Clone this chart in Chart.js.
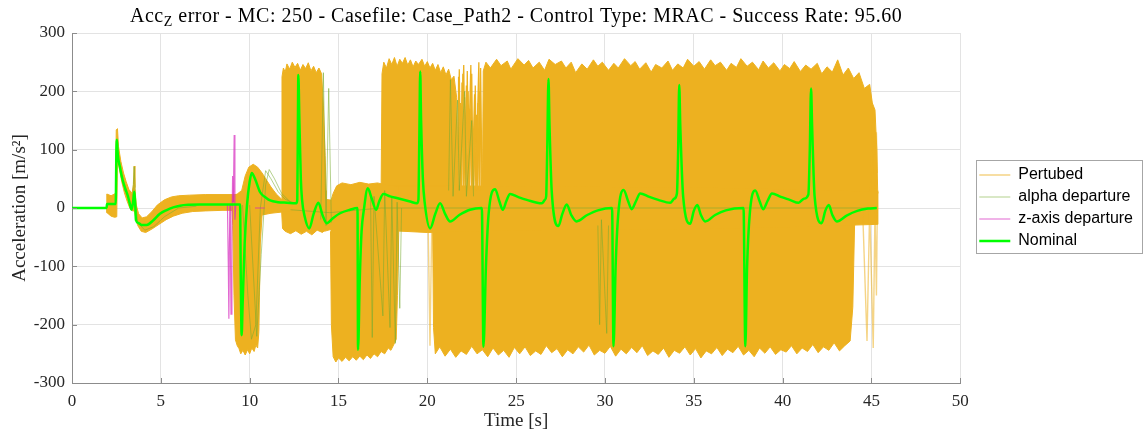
<!DOCTYPE html>
<html>
<head>
<meta charset="utf-8">
<title>Acc Z error - Monte Carlo</title>
<script src="https://cdn.jsdelivr.net/npm/chart.js@4.4.1/dist/chart.umd.min.js"></script>
<style>
  html, body { margin: 0; padding: 0; background: #fff; }
  canvas { display: block; }
</style>
</head>
<body>
<canvas id="acc-error-chart" width="1146" height="437"></canvas>
<script>
// axis ticks
const xTickValues = [0, 5, 10, 15, 20, 25, 30, 35, 40, 45, 50];
const yTickValues = [-300, -200, -100, 0, 100, 200, 300];

const titleParts = [
  ['Acc', false],
  ['Z', true],
  [' error - MC: 250 - Casefile: Case_Path2 - Control Type: MRAC - Success Rate: 95.60', false]
];

// nominal run [time, acc]
const nominalPath = [
  [0, 0], [1.95, 0], [1.97, 7], [2.46, 7], [2.5, 100], [2.53, 117], [2.57, 94], [2.7, 70],
  [2.85, 48], [3.0, 33], [3.15, 20], [3.25, 8], [3.35, -3], [3.46, 15], [3.51, 28], [3.56, 5],
  [3.6, -21], [3.75, -26], [3.92, -29], [4.2, -29], [4.58, -21], [4.95, -10], [5.33, -3.5],
  [5.7, 1], [6.08, 4], [6.6, 5.5], [7.2, 6], [9.46, 6], [9.5, -120], [9.55, -218], [9.6, -170],
  [9.72, -60], [9.85, 5], [10.0, 45], [10.12, 60], [10.3, 50], [10.59, 27], [10.9, 18],
  [11.15, 13], [11.6, 10], [12.1, 9], [12.62, 8], [12.68, 14], [12.71, 120], [12.74, 228],
  [12.8, 150], [12.88, 50], [12.95, 14], [13.1, -15], [13.36, -35], [13.6, -10], [13.87, 9],
  [14.1, -12], [14.34, -26], [14.7, -17], [15.09, -9], [15.65, -3], [16.07, 0], [16.1, -243],
  [16.2, -120], [16.3, -40], [16.42, -5], [16.65, 34], [16.85, 18], [17.12, -3], [17.3, 12],
  [17.53, 24], [17.9, 20], [18.28, 17], [19.03, 11], [19.41, 8], [19.5, 14], [19.55, 120],
  [19.6, 234], [19.65, 150], [19.75, 50], [19.85, 10], [20.16, -35], [20.45, -10], [20.72, 8],
  [21.0, -10], [21.28, -23], [21.8, -12], [22.4, -3], [23.07, 0], [23.16, -238], [23.3, -100],
  [23.45, -10], [23.82, 32], [24.05, 12], [24.25, -3], [24.45, 12], [24.66, 24], [25.1, 19],
  [25.6, 14], [26.45, 8], [26.62, 14], [26.69, 20], [26.75, 100], [26.82, 221], [26.88, 140],
  [27.0, 30], [27.38, -31], [27.6, -10], [27.85, 6], [28.1, -12], [28.4, -23], [29.0, -12],
  [29.6, -4], [30.4, 0], [30.48, -237], [30.6, -100], [30.75, -10], [31.05, 31], [31.3, 12],
  [31.5, -2], [31.75, 12], [31.98, 25], [32.5, 19], [33.0, 14], [33.67, 9], [33.9, 16],
  [34.05, 25], [34.12, 100], [34.18, 211], [34.24, 140], [34.4, 20], [34.8, -27], [35.0, -5],
  [35.2, 5], [35.4, -12], [35.64, -23], [36.2, -12], [36.8, -4], [37.8, 0], [37.9, -237],
  [38.0, -100], [38.15, -10], [38.46, 30], [38.7, 12], [38.9, -2], [39.15, 12], [39.4, 25],
  [39.9, 19], [40.4, 14], [40.9, 9], [41.2, 16], [41.45, 23], [41.53, 100], [41.6, 205],
  [41.66, 140], [41.8, 20], [42.2, -26], [42.4, -5], [42.6, 5], [42.8, -12], [43.05, -23],
  [43.6, -13], [44.2, -5], [44.8, -1], [45.3, 0]
];

// envelopes of the perturbed runs, each block as upper and lower edge [time, acc]
const earlyTop = [
  [1.95, 0], [1.96, 24], [2.2, 21], [2.45, 25], [2.49, 134], [2.56, 136], [2.62, 105],
  [2.75, 80], [2.9, 60], [3.05, 45], [3.2, 32], [3.38, 25], [3.46, 40], [3.5, 72], [3.54, 35],
  [3.62, 5], [3.75, -10], [3.95, -17], [4.2, -15], [4.5, -6], [4.8, 5], [5.2, 14], [5.6, 19],
  [6.0, 21], [6.6, 22], [7.5, 23], [8.5, 23], [9.3, 23]
];
const earlyBottom = [
  [1.95, 0], [1.97, -8], [2.2, -14], [2.4, -16], [2.52, -15], [2.56, 85], [2.65, 70],
  [2.8, 45], [2.95, 26], [3.1, 12], [3.25, 0], [3.4, -5], [3.52, -5], [3.6, -20], [3.7, -30],
  [3.9, -40], [4.15, -42], [4.5, -36], [4.9, -28], [5.3, -20], [5.7, -14], [6.2, -9],
  [6.8, -6], [7.5, -5], [8.5, -4], [9.3, -4]
];
const dropTop = [
  [9.0, 20], [9.3, 24], [9.55, 30], [9.75, 55], [9.95, 70], [10.2, 75], [10.45, 70],
  [10.7, 60], [10.95, 48], [11.2, 36], [11.5, 24], [11.8, 15], [12.1, 11], [12.4, 9]
];
const dropBottom = [
  [9.0, 0], [9.05, -30], [9.12, -150], [9.2, -226], [9.3, -236], [9.4, -241], [9.5, -250],
  [9.62, -244], [9.75, -252], [9.88, -243], [10.0, -250], [10.12, -240], [10.25, -246],
  [10.35, -235], [10.45, -240], [10.52, -212], [10.6, -60], [10.7, -12], [11.2, -9],
  [11.8, -7], [12.4, -5]
];
const climbTop = [
  [11.8, -5], [11.82, 225], [11.9, 240], [12.0, 233], [12.1, 247], [12.25, 238], [12.4, 250],
  [12.55, 241], [12.7, 248], [12.85, 236], [13.0, 246], [13.15, 239], [13.3, 249],
  [13.45, 235], [13.6, 243], [13.75, 232], [13.9, 240], [14.05, 230], [14.15, 175],
  [14.25, 90], [14.3, 30]
];
const climbBottom = [
  [11.8, -5], [11.85, -35], [12.0, -40], [12.3, -44], [12.6, -39], [12.9, -45], [13.2, -40],
  [13.5, -46], [13.8, -38], [14.1, -42], [14.3, -36]
];
const lowATop = [
  [14.55, 10], [14.7, 25], [14.9, 38], [15.2, 43], [15.7, 40], [16.2, 44], [16.7, 41],
  [17.2, 43], [17.6, 40], [18.0, 38], [18.4, 36]
];
const lowABottom = [
  [14.55, -40], [14.6, -200], [14.7, -255], [14.85, -264], [15.0, -257], [15.2, -263],
  [15.4, -256], [15.6, -262], [15.8, -255], [16.0, -261], [16.2, -254], [16.4, -260],
  [16.6, -252], [16.8, -258], [17.0, -250], [17.2, -255], [17.4, -246], [17.6, -250],
  [17.8, -240], [17.95, -244], [18.1, -235], [18.25, -225], [18.32, -150], [18.4, -30]
];
const bandTop = [
  [14.2, 15], [15.0, 12], [17.4, 38], [21, 38], [25, 37], [30, 36], [35, 35], [40, 32], [45.35, 28]
];
const bandBottom = [
  [14.2, -40], [15.0, -33], [17.4, -38], [20, -42], [25, -38], [30, -37], [35, -36], [40, -33], [45.35, -28]
];
const highATop = [
  [17.4, 30], [17.45, 230], [17.55, 250], [17.7, 240], [17.85, 256], [18.0, 246], [18.15, 258],
  [18.3, 243], [18.45, 255], [18.6, 248], [18.75, 258], [18.9, 245], [19.05, 254], [19.2, 242],
  [19.35, 252], [19.5, 246], [19.7, 255], [19.85, 243], [20.0, 251], [20.15, 240], [20.3, 248],
  [20.45, 236], [20.6, 246], [20.75, 232], [20.9, 242], [21.05, 228], [21.2, 238], [21.35, 220],
  [21.5, 226], [21.65, 190], [21.75, 30]
];
const highABottom = [[17.4, 30], [21.75, 30]];
const highBTop = [
  [23.1, 30], [23.15, 235], [23.3, 250], [23.55, 240], [23.9, 255], [24.15, 244], [24.5, 252],
  [24.7, 238], [25.1, 256], [25.45, 245], [25.7, 253], [25.95, 240], [26.3, 250], [26.6, 236],
  [26.85, 255], [27.2, 246], [27.55, 252], [27.8, 240], [28.1, 250], [28.35, 232], [28.7, 247],
  [29.0, 238], [29.35, 254], [29.6, 243], [29.85, 250], [30.2, 236], [30.5, 248], [30.75, 240],
  [31.1, 256], [31.45, 244], [31.7, 251], [31.95, 238], [32.3, 249], [32.6, 233], [32.85, 246],
  [33.2, 240], [33.55, 252], [33.8, 236], [34.1, 247], [34.4, 240], [34.65, 255], [35.0, 243],
  [35.3, 251], [35.6, 238], [35.95, 254], [36.2, 244], [36.5, 250], [36.85, 236], [37.1, 248],
  [37.4, 241], [37.65, 256], [38.0, 243], [38.3, 250], [38.65, 237], [38.9, 252], [39.2, 240],
  [39.5, 249], [39.85, 235], [40.1, 246], [40.4, 239], [40.65, 251], [41.0, 234], [41.3, 245],
  [41.6, 238], [41.95, 248], [42.2, 230], [42.5, 242], [42.8, 233], [43.1, 254], [43.4, 228],
  [43.7, 240], [44.0, 222], [44.3, 232], [44.6, 205], [44.9, 212], [45.05, 180], [45.2, 168],
  [45.3, 100], [45.35, 30]
];
const highBBottom = [[23.1, 30], [45.35, 25]];
const lowBTop = [[20.3, 0], [44.05, 0]];
const lowBBottom = [
  [20.3, -30], [20.35, -205], [20.45, -250], [20.7, -238], [21.0, -254], [21.3, -242],
  [21.6, -256], [21.9, -245], [22.2, -251], [22.5, -237], [22.8, -250], [23.1, -243],
  [23.4, -255], [23.7, -240], [24.0, -252], [24.3, -244], [24.6, -256], [24.9, -239],
  [25.2, -250], [25.5, -238], [25.8, -253], [26.1, -245], [26.4, -251], [26.7, -236],
  [27.0, -248], [27.3, -241], [27.6, -255], [27.9, -243], [28.2, -250], [28.5, -238],
  [28.8, -247], [29.1, -235], [29.4, -252], [29.7, -244], [30.0, -249], [30.3, -237],
  [30.6, -254], [30.9, -242], [31.2, -250], [31.5, -239], [31.8, -248], [32.1, -236],
  [32.4, -253], [32.7, -245], [33.0, -251], [33.3, -240], [33.6, -256], [33.9, -244],
  [34.2, -249], [34.5, -238], [34.8, -252], [35.1, -241], [35.4, -257], [35.7, -245],
  [36.0, -250], [36.3, -239], [36.6, -253], [36.9, -242], [37.2, -248], [37.5, -237],
  [37.8, -252], [38.1, -244], [38.4, -255], [38.7, -240], [39.0, -249], [39.3, -238],
  [39.6, -251], [39.9, -243], [40.2, -247], [40.5, -236], [40.8, -250], [41.1, -240],
  [41.4, -246], [41.7, -234], [42.0, -248], [42.3, -238], [42.6, -244], [42.9, -231],
  [43.2, -245], [43.5, -236], [43.8, -228], [43.95, -170], [44.05, -30]
];

// single perturbed traces outside the dense blocks
const pertLowEdge = [[20.05, -30], [20.15, -236], [20.25, -30]];
const pertGapA = [
  [21.7, 30], [21.8, 238], [21.88, 30], [21.95, 215], [22.02, 30], [22.1, 190], [22.18, 30],
  [22.25, 235], [22.32, 30], [22.4, 170], [22.48, 30], [22.55, 140], [22.62, 30], [22.7, 210],
  [22.78, 30], [22.85, 180], [22.92, 30], [23.0, 240], [23.08, 30]
];
const pertGapB = [
  [21.72, 30], [21.76, 225], [21.84, 30], [22.05, 245], [22.14, 30], [22.3, 200], [22.36, 30],
  [22.5, 230], [22.58, 30], [22.76, 160], [22.82, 30], [22.95, 200], [23.05, 30]
];
const pertGapC = [
  [21.78, 30], [21.86, 180], [21.92, 30], [22.0, 230], [22.06, 30], [22.2, 210], [22.27, 30],
  [22.45, 245], [22.52, 30], [22.66, 195], [22.73, 30], [22.9, 250], [22.97, 30]
];
const pertEndLow = [[44.5, 0], [44.75, -228], [44.9, 0], [45.1, -240], [45.2, 0], [45.28, -150], [45.33, 0]];
const pertEndHigh = [[44.95, 30], [45.1, 172], [45.2, 30], [45.28, 130], [45.33, 60]];

// runs flagged as alpha departure
const alphaRuns = [
  [[9.6, 5], [9.9, -150], [10.1, -225], [10.35, -200], [10.6, 0], [10.9, 64], [11.2, 50], [11.6, 28], [12.0, 15], [12.5, 8]],
  [[10.0, 5], [10.4, -220], [10.65, -80], [10.9, 40], [11.1, 66], [11.4, 50], [11.8, 25], [12.3, 10]],
  [[3.4, 10], [3.5, 71], [3.58, 10], [3.7, -25], [4.1, -38], [4.6, -32], [5.2, -15], [6.0, 0], [7.0, 3]],
  [[14.0, -20], [14.15, 232], [14.3, -30], [14.45, 205], [14.6, -25]],
  [[16.8, 30], [16.9, -222], [17.0, 20], [17.5, -185], [17.6, 30], [17.9, -205], [18.0, 20], [18.2, -232], [18.3, 10], [18.45, -172], [18.55, 0]],
  [[21.2, 30], [21.3, 220], [21.45, 20], [21.7, 185], [21.8, 30], [22.1, 200], [22.2, 20], [22.5, 150], [22.6, 20]],
  [[12.3, -3], [14.5, -8], [17.4, 0], [45.3, 0]],
  [[29.6, -30], [29.7, -200], [29.8, -20], [30.1, -215], [30.2, -30]]
];

// runs flagged as z-axis departure
const zAxisRuns = [
  [[8.75, 5], [8.8, -100], [8.83, -190], [8.86, -60], [8.9, 5]],
  [[8.9, 5], [8.95, -182], [9.0, -50], [9.04, 55], [9.08, 10]],
  [[9.08, 10], [9.13, 125], [9.17, -20], [9.22, 5]],
  [[10.3, 0], [10.85, 0]]
];

const ORANGE = '#EDB120';
const ORANGE_TRACE = 'rgba(237, 177, 32, 0.55)';
const OLIVE_TRACE = 'rgba(119, 172, 48, 0.55)';
const MAGENTA_TRACE = 'rgba(214, 40, 190, 0.7)';
const NOMINAL_GREEN = '#00FF00';
const LEGEND_GAP = 13;
const SERIF = '"Liberation Serif", "Times New Roman", serif';

const pts = pairs => pairs.map(([x, y]) => ({ x, y }));
const shape = (top, bottom) => pts(top.concat(bottom.slice().reverse()));

const datasets = [];

[
  [earlyTop, earlyBottom], [dropTop, dropBottom], [climbTop, climbBottom],
  [lowATop, lowABottom], [bandTop, bandBottom], [highATop, highABottom],
  [highBTop, highBBottom], [lowBTop, lowBBottom]
].forEach(([top, bottom]) => {
  datasets.push({
    label: 'Pertubed', data: shape(top, bottom), fill: 'shape',
    backgroundColor: ORANGE, borderColor: ORANGE, borderWidth: 1, order: 5
  });
});

// the legend sample uses the first, lighter trace
[pertLowEdge, pertEndLow, pertEndHigh].forEach((run, i) => {
  datasets.push({
    label: 'Pertubed', data: pts(run), borderColor: ORANGE_TRACE, borderWidth: 1.4,
    order: 4, inLegend: i === 0
  });
});
[pertGapA, pertGapB, pertGapC].forEach(run => {
  datasets.push({
    label: 'Pertubed', data: pts(run), borderColor: ORANGE, borderWidth: 1.3, order: 4
  });
});

alphaRuns.forEach((run, i) => {
  datasets.push({
    label: 'alpha departure', data: pts(run), borderColor: OLIVE_TRACE, borderWidth: 1,
    order: 3, inLegend: i === 0
  });
});

zAxisRuns.forEach((run, i) => {
  datasets.push({
    label: 'z-axis departure', data: pts(run), borderColor: MAGENTA_TRACE, borderWidth: 1.2,
    order: 2, inLegend: i === 0
  });
});

datasets.push({
  label: 'Nominal', data: pts(nominalPath), borderColor: NOMINAL_GREEN, borderWidth: 2.5,
  cubicInterpolationMode: 'monotone', order: 1, inLegend: true
});

// title with subscript, drawn centred over the plot area
const titlePlugin = {
  id: 'mixedTitle',
  afterDraw(chart) {
    const { ctx, chartArea } = chart;
    const big = '20px ' + SERIF;
    const small = '14px ' + SERIF;
    ctx.save();
    ctx.fillStyle = '#000';
    ctx.textBaseline = 'alphabetic';
    ctx.letterSpacing = '0.5px';
    const widths = titleParts.map(([text, sub]) => {
      ctx.font = sub ? small : big;
      return ctx.measureText(text).width;
    });
    const total = widths.reduce((a, b) => a + b, 0);
    let x = (chartArea.left + chartArea.right) / 2 - total / 2;
    titleParts.forEach(([text, sub], i) => {
      ctx.font = sub ? small : big;
      ctx.fillText(text, x, sub ? 26 : 22);
      x += widths[i];
    });
    ctx.restore();
  }
};

// inward tick marks on the bottom and left axes
const tickMarkPlugin = {
  id: 'tickMarks',
  afterDatasetsDraw(chart) {
    const { ctx, chartArea: a, scales: { x, y } } = chart;
    ctx.save();
    ctx.strokeStyle = '#8c8c8c';
    ctx.lineWidth = 1;
    ctx.beginPath();
    x.ticks.forEach(t => {
      const px = Math.round(x.getPixelForValue(t.value)) + 0.5;
      ctx.moveTo(px, a.bottom);
      ctx.lineTo(px, a.bottom - 5);
    });
    y.ticks.forEach(t => {
      const py = Math.round(y.getPixelForValue(t.value)) + 0.5;
      ctx.moveTo(a.left, py);
      ctx.lineTo(a.left + 5, py);
    });
    ctx.stroke();
    ctx.restore();
  }
};

// push the legend off the plot edge and frame it
const legendFramePlugin = {
  id: 'legendFrame',
  afterLayout(chart) {
    chart.legend.left += LEGEND_GAP;
    chart.legend.right += LEGEND_GAP;
  },
  afterDraw(chart) {
    const boxes = chart.legend.legendHitBoxes;
    if (!boxes || !boxes.length) return;
    const left = Math.min(...boxes.map(b => b.left)) - 3;
    const right = Math.max(...boxes.map(b => b.left + b.width)) + 9;
    const top = boxes[0].top - 7;
    const last = boxes[boxes.length - 1];
    const bottom = last.top + last.height + 4;
    const { ctx } = chart;
    ctx.save();
    ctx.strokeStyle = '#a6a6a6';
    ctx.lineWidth = 1;
    ctx.strokeRect(Math.round(left) + 0.5, Math.round(top) + 0.5, Math.round(right - left), Math.round(bottom - top));
    ctx.restore();
  }
};

new Chart(document.getElementById('acc-error-chart'), {
  type: 'line',
  data: { datasets },
  options: {
    responsive: false,
    animation: false,
    events: [],
    layout: { padding: { top: 33, right: 16, bottom: 0, left: 0 } },
    elements: { point: { radius: 0 }, line: { tension: 0 } },
    plugins: {
      title: { display: false },
      tooltip: { enabled: false },
      legend: {
        position: 'right',
        align: 'center',
        fullSize: false,
        labels: {
          usePointStyle: true,
          pointStyle: 'line',
          pointStyleWidth: 31,
          padding: 6,
          color: '#000',
          font: { family: '"Liberation Sans", Arial, sans-serif', size: 16 },
          filter: (item, data) => data.datasets[item.datasetIndex].inLegend === true,
          sort: (a, b, data) => data.datasets[b.datasetIndex].order - data.datasets[a.datasetIndex].order
        }
      }
    },
    scales: {
      x: {
        type: 'linear',
        min: 0,
        max: 50,
        afterBuildTicks: s => { s.ticks = xTickValues.map(value => ({ value })); },
        afterFit: s => { s.height = 54; },
        grid: { color: '#e3e3e3', drawTicks: false },
        border: { color: '#8c8c8c' },
        ticks: {
          autoSkip: false, maxRotation: 0, padding: 8, color: '#262626',
          font: { family: SERIF, size: 17 }
        },
        title: {
          display: true, text: 'Time [s]', color: '#262626',
          font: { family: SERIF, size: 19 }, padding: { top: 0, bottom: 5 }
        }
      },
      y: {
        type: 'linear',
        min: -300,
        max: 300,
        afterBuildTicks: s => { s.ticks = yTickValues.map(value => ({ value })); },
        afterFit: s => { s.width = 72; },
        grid: { color: '#e3e3e3', drawTicks: false },
        border: { color: '#8c8c8c' },
        ticks: {
          autoSkip: false, padding: 7, color: '#262626',
          font: { family: SERIF, size: 17 }
        },
        title: {
          display: true, text: 'Acceleration [m/s²]', color: '#262626',
          font: { family: SERIF, size: 19 }, padding: { top: 9, bottom: 0 }
        }
      }
    }
  },
  plugins: [titlePlugin, tickMarkPlugin, legendFramePlugin]
});
</script>
</body>
</html>
